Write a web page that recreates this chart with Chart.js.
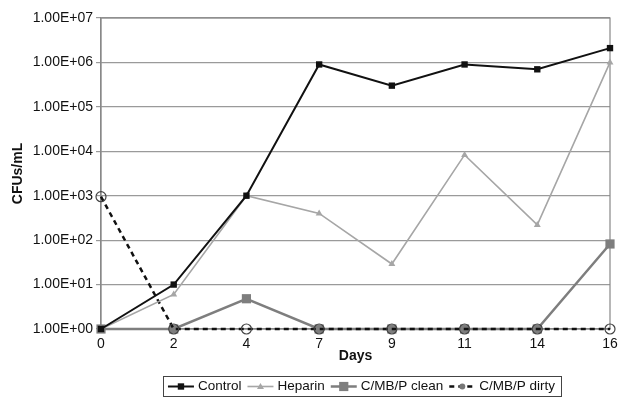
<!DOCTYPE html>
<html>
<head>
<meta charset="utf-8">
<script src="https://cdn.jsdelivr.net/npm/chart.js@4.4.0/dist/chart.umd.min.js"></script>
<style>
  body { margin: 0; background: #fff; }
</style>
</head>
<body>
<canvas id="mycanvas" width="620" height="397"></canvas>
<script>
var days = ['0', '2', '4', '7', '9', '11', '14', '16'];
var control = [1, 10, 1000, 900000, 300000, 900000, 700000, 2100000];
var heparin = [1, 6, 1000, 400, 29, 8300, 220, 1000000];
var cleanVals = [1, 1, 4.8, 1, 1, 1, 1, 82];
var dirtyVals = [950, 1, 1, 1, 1, 1, 1, 1];
var yTicks = [1, 10, 100, 1000, 10000, 100000, 1000000, 10000000];

var font = "'Liberation Sans', Arial, Helvetica, sans-serif";

function expLabel(v) {
  var e = Math.round(Math.log10(v));
  return '1.00E+' + (e < 10 ? '0' : '') + e;
}

// legend with line + marker, drawn in a box below the plot
var boxLegend = {
  id: 'boxLegend',
  afterDraw: function(chart) {
    var ctx = chart.ctx;
    var items = chart.data.datasets;
    ctx.save();
    ctx.font = '13.5px ' + font;
    var symW = 26, gapA = 4, gapB = 6;
    var total = 5;
    items.forEach(function(d) { total += symW + gapA + ctx.measureText(d.label).width + gapB; });
    var left = 362 - total / 2, top = 376, h = 20;
    ctx.strokeStyle = '#444';
    ctx.lineWidth = 1;
    ctx.strokeRect(Math.round(left) + 0.5, top + 0.5, Math.round(total), h);
    var x = left + 5, cy = top + h / 2 + 0.5;
    items.forEach(function(d) {
      ctx.strokeStyle = d.borderColor;
      ctx.lineWidth = d.borderWidth;
      ctx.setLineDash(d.borderDash || []);
      ctx.beginPath();
      ctx.moveTo(x, cy);
      ctx.lineTo(x + symW, cy);
      ctx.stroke();
      ctx.setLineDash([]);
      var mx = x + symW / 2;
      if (d.pointStyle === 'circle') {
        ctx.fillStyle = '#777';
        ctx.beginPath();
        ctx.arc(mx, cy, 3, 0, Math.PI * 2);
        ctx.fill();
      } else if (d.pointStyle === 'triangle') {
        ctx.fillStyle = d.pointBackgroundColor;
        ctx.beginPath();
        ctx.moveTo(mx, cy - 3.5);
        ctx.lineTo(mx + 3.5, cy + 2.5);
        ctx.lineTo(mx - 3.5, cy + 2.5);
        ctx.closePath();
        ctx.fill();
      } else {
        var s = d.pointRadius * Math.SQRT1_2;
        ctx.fillStyle = d.pointBackgroundColor;
        ctx.fillRect(mx - s, cy - s, 2 * s, 2 * s);
      }
      x += symW + gapA;
      ctx.fillStyle = '#111';
      ctx.textBaseline = 'middle';
      ctx.fillText(d.label, x, cy);
      x += ctx.measureText(d.label).width + gapB;
    });
    ctx.restore();
  }
};

// outline of the plot area (right border)
var plotFrame = {
  id: 'plotFrame',
  beforeDatasetsDraw: function(chart) {
    var a = chart.chartArea, ctx = chart.ctx;
    ctx.save();
    ctx.strokeStyle = '#888';
    ctx.lineWidth = 1.2;
    ctx.strokeRect(a.left, a.top, a.right - a.left, a.bottom - a.top);
    ctx.restore();
  }
};

var ctx = document.getElementById('mycanvas');

var chart = new Chart(ctx, {
  type: 'line',
  data: {
    labels: days,
    datasets: [
      {
        label: 'Control',
        data: control,
        borderColor: '#111',
        borderWidth: 2,
        pointStyle: 'rect',
        pointRadius: 4.5,
        pointBackgroundColor: '#111',
        pointBorderColor: '#111',
        pointBorderWidth: 0,
        order: 0,
        clip: false
      },
      {
        label: 'Heparin',
        data: heparin,
        borderColor: '#a6a6a6',
        borderWidth: 1.6,
        pointStyle: 'triangle',
        pointRadius: 4,
        pointBackgroundColor: '#a6a6a6',
        pointBorderColor: '#a6a6a6',
        pointBorderWidth: 0,
        order: 1,
        clip: false
      },
      {
        label: 'C/MB/P clean',
        data: cleanVals,
        borderColor: '#7e7e7e',
        borderWidth: 2.5,
        pointStyle: 'rect',
        pointRadius: 6.5,
        pointBackgroundColor: '#7e7e7e',
        pointBorderColor: '#7e7e7e',
        pointBorderWidth: 0,
        order: 3,
        clip: false
      },
      {
        label: 'C/MB/P dirty',
        data: dirtyVals,
        borderColor: '#111',
        borderWidth: 2.5,
        borderDash: [5, 4],
        pointStyle: 'circle',
        pointRadius: 5,
        pointBackgroundColor: 'rgba(0,0,0,0)',
        pointBorderColor: '#444',
        pointBorderWidth: 1.2,
        order: 2,
        clip: false
      }
    ]
  },
  options: {
    responsive: false,
    animation: false,
    tension: 0,
    layout: { padding: { left: 6, right: 10, top: 18, bottom: 28 } },
    plugins: {
      legend: { display: false },
      tooltip: { enabled: false }
    },
    scales: {
      x: {
        type: 'category',
        offset: false,
        grid: { display: false, drawTicks: false },
        border: { display: true, color: '#888', width: 1.2 },
        ticks: { color: '#111', padding: 7, font: { family: font, size: 14 }, maxRotation: 0, autoSkip: false },
        title: { display: true, text: 'Days', color: '#111', padding: { top: 0, bottom: 4 }, font: { family: font, size: 14, weight: 'bold' } },
        afterFit: function(scale) {
          scale.height = 40;
          scale.paddingRight = 0;
          scale.paddingLeft = 0;
        }
      },
      y: {
        type: 'logarithmic',
        min: 1,
        max: 10000000,
        grid: { color: '#9a9a9a', lineWidth: 1.2, tickLength: 5, drawTicks: true },
        border: { display: true, color: '#888', width: 1.2 },
        ticks: {
          color: '#111',
          padding: 3,
          font: { family: font, size: 14 },
          callback: function(v) { return expLabel(v); }
        },
        afterBuildTicks: function(scale) {
          scale.ticks = yTicks.map(function(v) { return { value: v, major: false }; });
        },
        title: { display: true, text: 'CFUs/mL', color: '#111', padding: { top: 4, bottom: 0 }, font: { family: font, size: 14, weight: 'bold' } },
        afterFit: function(scale) { scale.width = 95; }
      }
    }
  },
  plugins: [plotFrame, boxLegend]
});
</script>
</body>
</html>
